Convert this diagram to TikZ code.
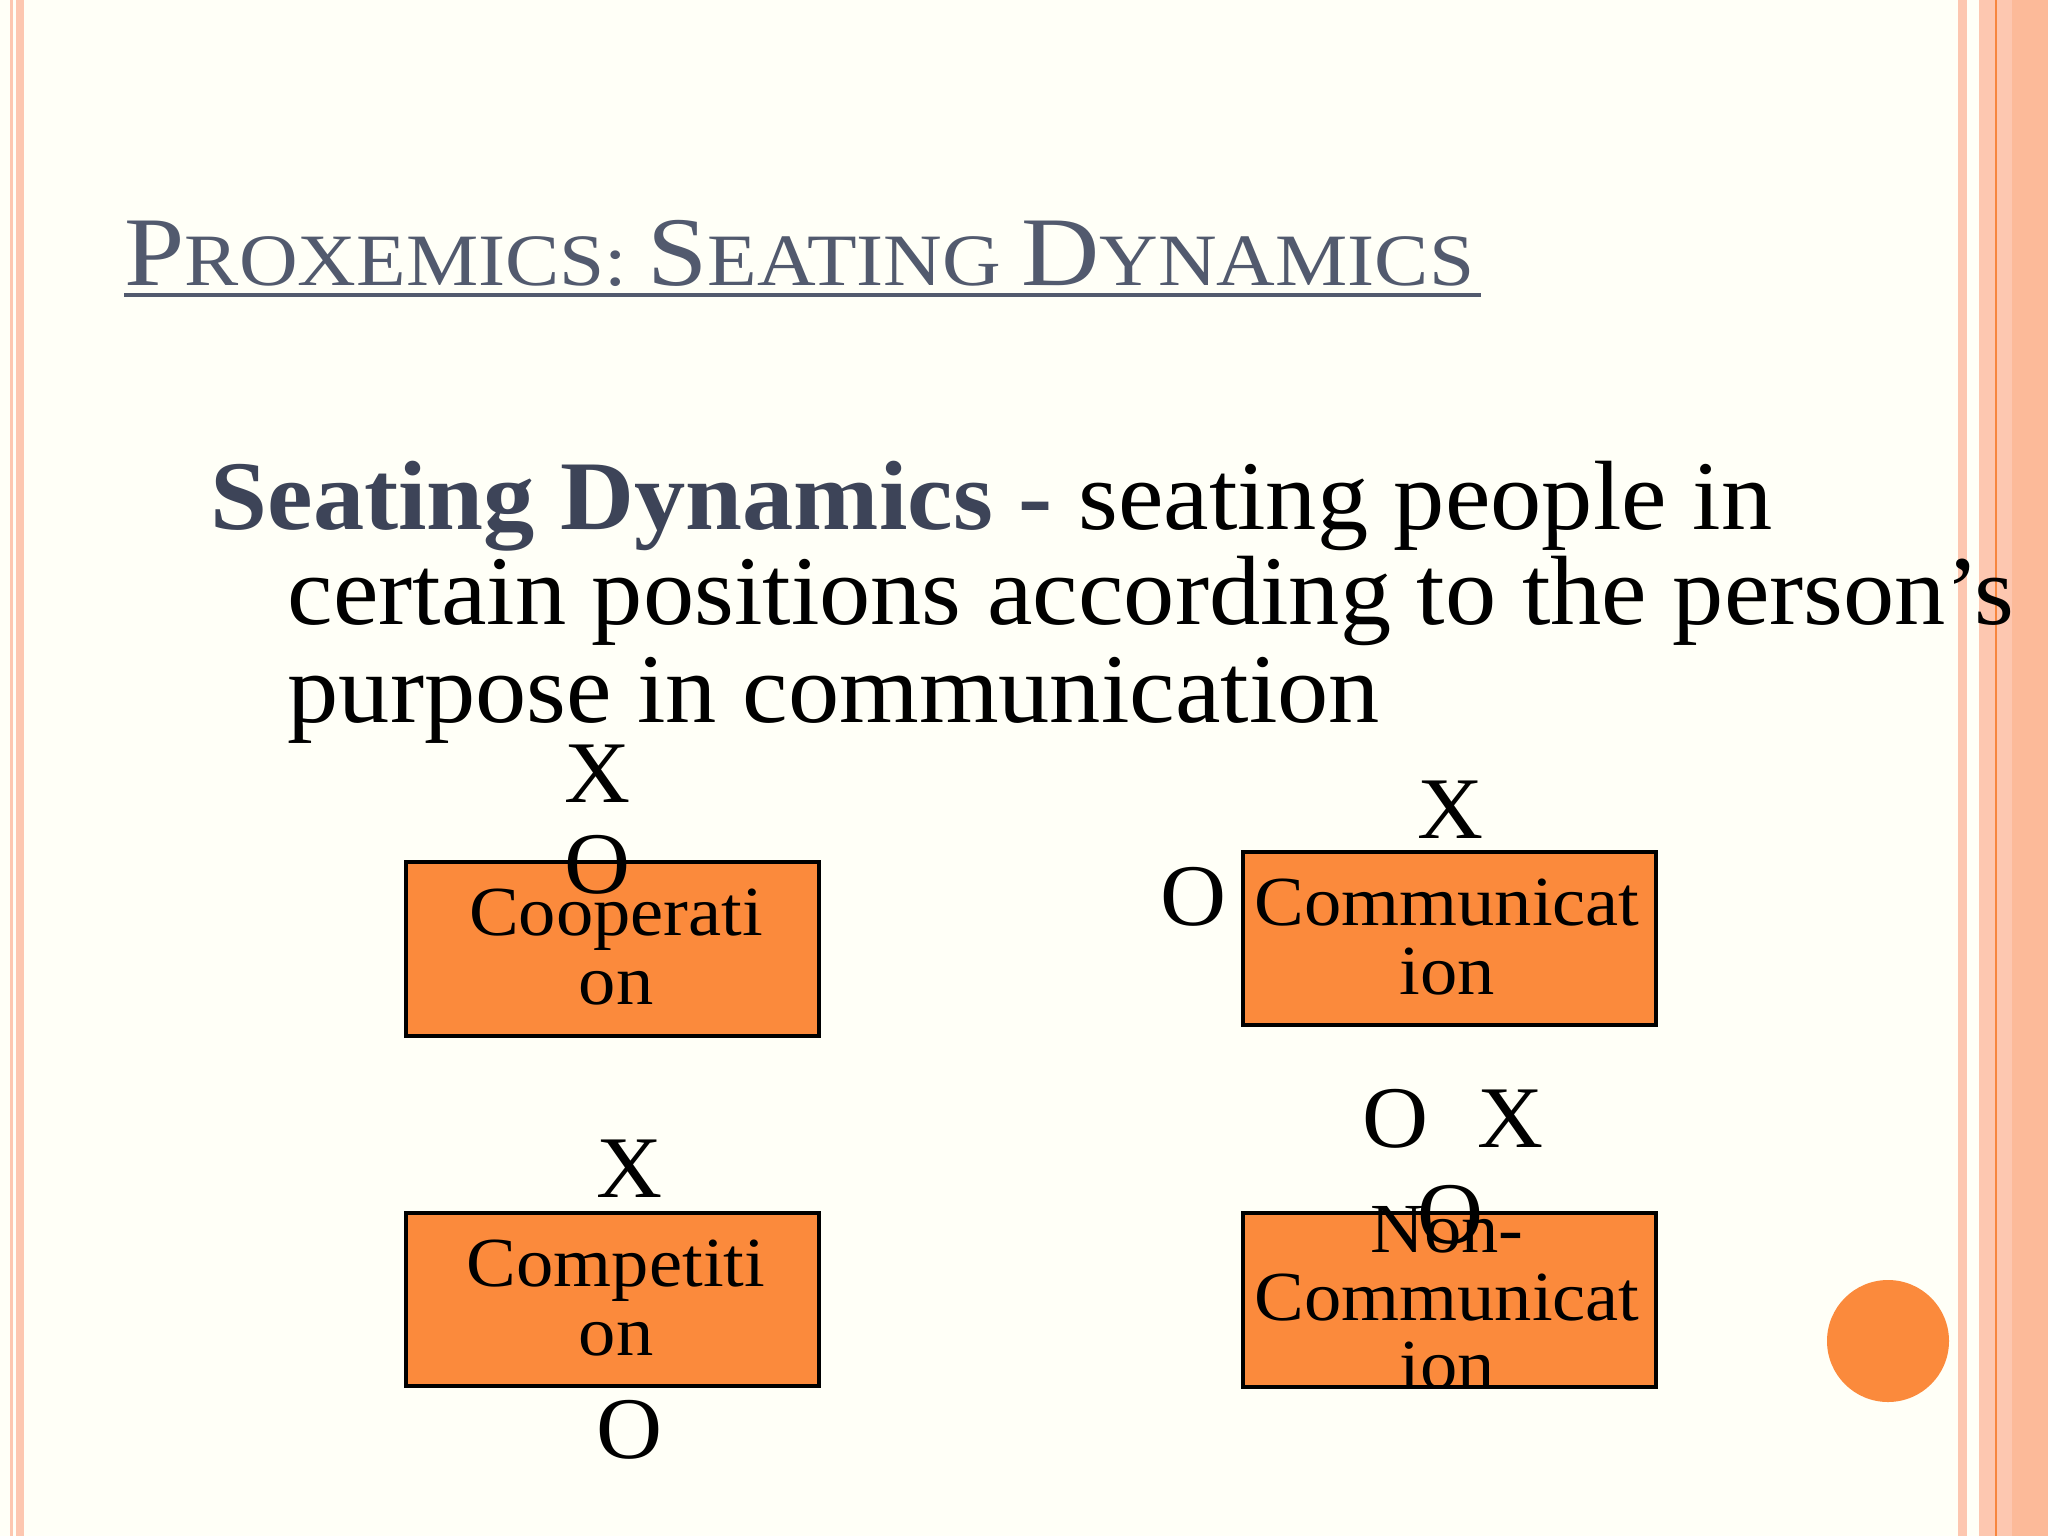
\documentclass[tikz,border=0pt]{standalone}
\usepackage{fontspec}
\setmainfont[FakeStretch=1.04]{Liberation Serif}
\newfontfamily\titlefont[FakeStretch=1.1]{Liberation Serif}
\newfontfamily\boxfont[FakeStretch=1.06]{Liberation Serif}
\definecolor{salmon}{HTML}{FDC7B0}
\definecolor{deeporange}{HTML}{F7863E}
\definecolor{boxfill}{HTML}{FB8A3C}
\definecolor{titlec}{HTML}{525A6E}
\definecolor{boldc}{HTML}{3D4458}
\begin{document}
\begin{tikzpicture}[x=0.01cm,y=-0.01cm,
  seatbox/.style={draw=black,line width=1.4pt,fill=boxfill,minimum width=4.13cm,minimum height=1.73cm,align=center,font=\boxfont\fontsize{20}{19.4}\selectfont,inner sep=0pt},
  seat/.style={font=\fontsize{25}{25}\selectfont,inner sep=0pt}]
\useasboundingbox (0,0) rectangle (2048,1536);
\fill[white!97!yellow] (0,0) rectangle (2048,1536);
% borders
\fill[salmon] (10,0) rectangle (13,1536);
\fill[salmon] (16,0) rectangle (24,1536);
\fill[salmon] (1958,0) rectangle (1967,1536);
\fill[salmon] (1979,0) rectangle (2048,1536);
\fill[salmon!80!deeporange] (2012,0) rectangle (2048,1536);
\draw[deeporange,line width=0.6pt] (1996,0) -- (1996,1536);
% title
\node[anchor=base west,inner sep=0pt,text=titlec,font=\titlefont] (title) at (124,285)
 {\fontsize{28}{28}\selectfont P\fontsize{21}{21}\selectfont ROXEMICS: \fontsize{28}{28}\selectfont S\fontsize{21}{21}\selectfont EATING \fontsize{28}{28}\selectfont D\fontsize{21}{21}\selectfont YNAMICS};
\draw[titlec,line width=1.2pt] (124,295) -- (1481,295);
% body
\node[anchor=base west,inner sep=0pt] (l1) at (210,529) {\fontsize{28}{28}\selectfont\textcolor{boldc}{\textbf{Seating Dynamics -}} seating people in};
\node[anchor=base west,inner sep=0pt] (l2) at (287,624) {\fontsize{28}{28}\selectfont certain positions according to the person’s};
\node[anchor=base west,inner sep=0pt] (l3) at (287,722) {\fontsize{28}{28}\selectfont purpose in communication};
% boxes
\draw[draw=black,line width=1.4pt,fill=boxfill] (406,862) rectangle (819,1036);
\draw[draw=black,line width=1.4pt,fill=boxfill] (1243,852) rectangle (1656,1025);
\draw[draw=black,line width=1.4pt,fill=boxfill] (406,1213) rectangle (819,1386);
\draw[draw=black,line width=1.4pt,fill=boxfill] (1243,1213) rectangle (1656,1387);
\node[seatbox,draw=none,fill=none] (coop) at (616,947) {Cooperati\\on};
\node[seatbox,draw=none,fill=none] (comm) at (1447,937) {Communicat\\ion};
\node[seatbox,draw=none,fill=none] (comp) at (616,1298) {Competiti\\on};
\node[seatbox,draw=none,fill=none] (nonc) at (1447,1298) {Non-\\Communicat\\ion};
% seats
\node[seat] (x1) at (598,774) {X};
\node[seat] (o1) at (598,865) {O};
\node[seat] (x2) at (1450,810) {X};
\node[seat] (o2) at (1194,897) {O};
\node[seat] (o3) at (1395,1119) {O};
\node[seat] (x3) at (1510,1119) {X};
\node[seat] (o4) at (1450,1215) {O};
\node[seat] (x4) at (630,1169) {X};
\node[seat] (o5) at (630,1430) {O};
% circle
\fill[boxfill] (1888,1341) circle (61);
\end{tikzpicture}
\end{document}
